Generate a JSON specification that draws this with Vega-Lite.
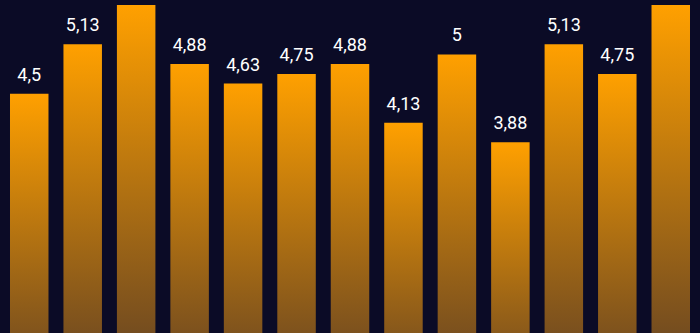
{
  "$schema": "https://vega.github.io/schema/vega-lite/v6.json",
  "width": 700,
  "height": 333,
  "autosize": {"type": "fit", "contains": "padding"},
  "padding": 0,
  "background": "#0B0B26",
  "config": {
    "view": {"stroke": null},
    "locale": {"number": {"decimal": ",", "thousands": ".", "grouping": [3], "currency": ["", " €"]}}
  },
  "data": {
    "values": [
      {"i": 1, "v": 4.5},
      {"i": 2, "v": 5.13},
      {"i": 3, "v": 5.63},
      {"i": 4, "v": 4.88},
      {"i": 5, "v": 4.63},
      {"i": 6, "v": 4.75},
      {"i": 7, "v": 4.88},
      {"i": 8, "v": 4.13},
      {"i": 9, "v": 5},
      {"i": 10, "v": 3.88},
      {"i": 11, "v": 5.13},
      {"i": 12, "v": 4.75},
      {"i": 13, "v": 5.63}
    ]
  },
  "encoding": {
    "x": {"field": "i", "type": "ordinal", "axis": null,
          "scale": {"paddingInner": 0.28, "paddingOuter": 0.187}},
    "y": {"field": "v", "type": "quantitative", "axis": null,
          "scale": {"domain": [1.448, 5.695], "nice": false, "zero": false}}
  },
  "layer": [
    {
      "mark": {
        "type": "bar",
        "clip": true,
        "color": {
          "gradient": "linear",
          "x1": 0, "y1": 0, "x2": 0, "y2": 1,
          "stops": [
            {"offset": 0, "color": "#FFA000"},
            {"offset": 1, "color": "#45302A"}
          ]
        }
      },
      "encoding": {"y2": {"datum": 0}}
    },
    {
      "transform": [{"filter": "datum.v < 5.5"}],
      "mark": {"type": "text", "clip": true, "color": "#FFFFFF", "font": "Roboto", "fontSize": 18, "fontWeight": "normal", "baseline": "alphabetic", "dy": -13},
      "encoding": {"text": {"field": "v", "type": "quantitative", "format": ".2~f"}}
    }
  ]
}
